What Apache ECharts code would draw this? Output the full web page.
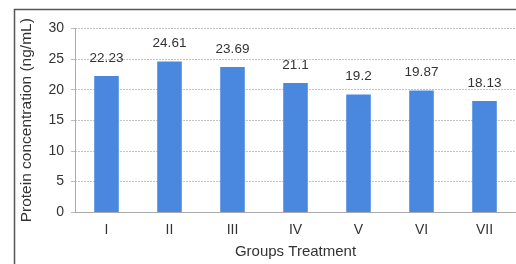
<!DOCTYPE html>
<html><head><meta charset="utf-8">
<script src="https://cdn.jsdelivr.net/npm/echarts@6/dist/echarts.min.js"></script>
<style>html,body{margin:0;padding:0;background:#fff}#c{width:516px;height:264px}</style>
</head><body><div id="c"></div>
<script>
var categories = ['I','II','III','IV','V','VI','VII'];
var values = [22.23, 24.61, 23.69, 21.1, 19.2, 19.87, 18.13];
var valueLabels = ['22.23','24.61','23.69','21.1','19.2','19.87','18.13'];
var yTicks = [0, 5, 10, 15, 20, 25, 30];

var chart = echarts.init(document.getElementById('c'), null, {renderer:'canvas'});
var font = 'Liberation Sans, Arial, sans-serif';
chart.setOption({
  animation: false,
  backgroundColor: '#fff',
  graphic: [{
    type: 'rect', left: 12, top: 7, z: -1,
    shape: {x: 0, y: 0, width: 520, height: 300},
    style: {fill: 'none', stroke: '#555', lineWidth: 1.5}
  }],
  grid: {left: 75, right: 0, top: 28.5, bottom: 48},
  xAxis: {
    type: 'category', data: categories,
    axisLine: {show: true, lineStyle: {color: '#aaa', width: 1}},
    axisTick: {show: false},
    axisLabel: {color: '#333', fontSize: 14, fontFamily: font, margin: 11},
    name: 'Groups Treatment', nameLocation: 'middle', nameGap: 32,
    nameTextStyle: {color: '#333', fontSize: 15, fontFamily: font}
  },
  yAxis: {
    type: 'value', min: yTicks[0], max: yTicks[yTicks.length-1], interval: 5,
    axisLine: {show: true, lineStyle: {color: '#aaa', width: 1}},
    axisTick: {show: true, length: 4, lineStyle: {color: '#bbb'}},
    axisLabel: {color: '#333', fontSize: 14, fontFamily: font, margin: 11},
    splitLine: {show: true, lineStyle: {color: '#c4c4c4', type: [2, 1], width: 1}},
    name: 'Protein concentration (ng/mL)', nameLocation: 'middle', nameGap: 40,
    nameTextStyle: {color: '#333', fontSize: 15.5, fontFamily: font}
  },
  series: [{
    type: 'bar', data: values, barWidth: '39%',
    itemStyle: {color: '#4a88e0'},
    label: {show: true, position: 'top', distance: 11, color: '#333', fontSize: 13.5, fontFamily: font,
      formatter: function(p){ return valueLabels[p.dataIndex]; }}
  }]
});
</script></body></html>
